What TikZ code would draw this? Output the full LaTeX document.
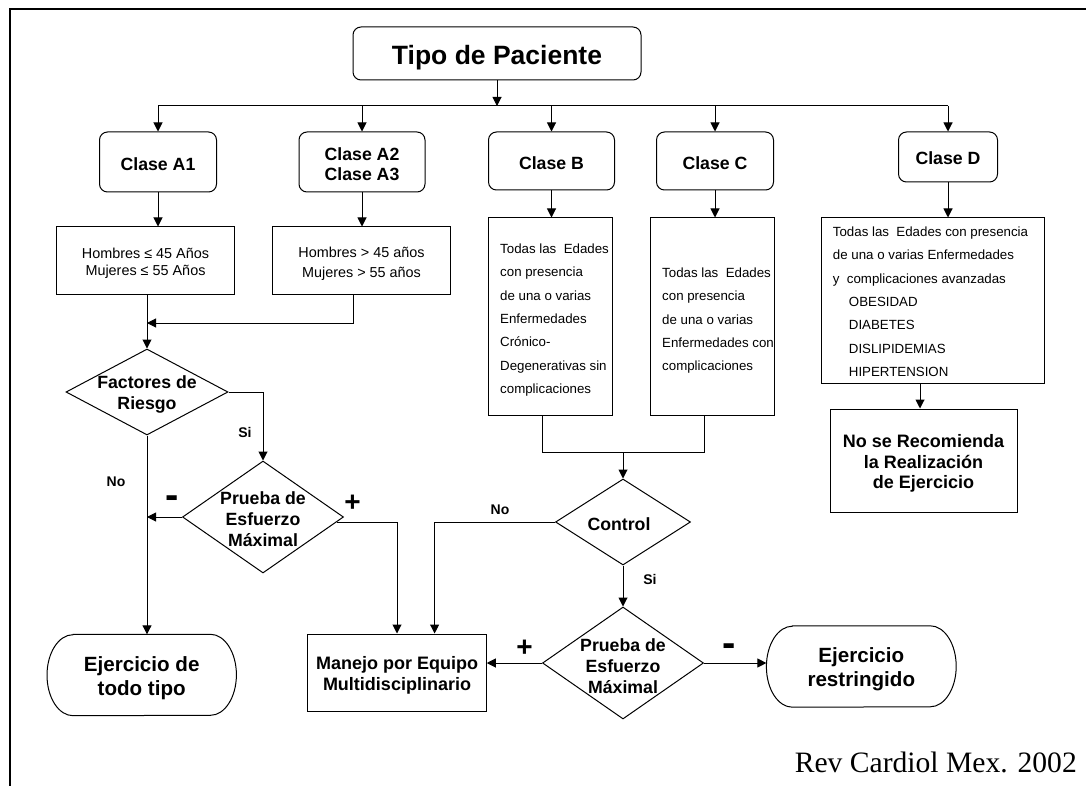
\documentclass[tikz,border=0pt]{standalone}
\usepackage{fontspec}
\setmainfont{Liberation Sans}
\newfontfamily\serifcite{Liberation Serif}
\usetikzlibrary{arrows.meta,shapes.geometric}
\newcommand\setfs[2]{\fontsize{#1}{#2}\selectfont}
\newcommand\bfsz{\bfseries\setfs{17.7}{21}}
\newcommand\termline[1]{\draw[line] ([xshift=26pt]#1.north west) -- ([xshift=-26pt]#1.north east) arc[start angle=90,end angle=-90,x radius=26pt,y radius=40.5pt] -- ([xshift=26pt]#1.south west) arc[start angle=270,end angle=90,x radius=26pt,y radius=40.5pt] -- cycle;}
\tikzset{
  line/.style={line width=1pt},
  arr/.style={line width=1pt,-{Triangle[length=9pt,width=9pt]}},
  rbox/.style={draw,line width=1pt,rounded corners=8pt,inner sep=0pt},
  sbox/.style={draw,line width=1pt,inner sep=0pt},
  dia/.style={draw,line width=1pt,diamond,inner sep=0pt},
  blbl/.style={font=\bfsz,align=center,inner sep=0pt,yshift=-2.5pt},
  small/.style={font=\bfseries\setfs{14}{16},inner sep=0pt},
  plus/.style={font=\bfseries\setfs{28}{30},inner sep=0pt},
  minus/.style={font=\bfseries\setfs{40}{40},inner sep=0pt},
  body/.style={font=\setfs{13.3}{23.4},align=left,inner sep=0pt,anchor=north west},
  term/.style={inner sep=0pt,align=center,font=\bfseries\setfs{20.6}{24},yshift=-3pt},
}
\begin{document}
\begin{tikzpicture}[x=1pt,y=-1pt]
\useasboundingbox (0,0) rectangle (1086,786);
\draw[line width=2pt] (10,786) -- (10,9.5) -- (1086,9.5);

% top
\node[rbox,minimum width=288pt,minimum height=53pt] (tipo) at (497,53.5) {};
\node[blbl,font=\bfseries\setfs{26.5}{30},yshift=-1.5pt] (tipot) at (tipo) {Tipo de Paciente};

% classes
\node[rbox,minimum width=117pt,minimum height=60pt] (a1) at (158,162) {};
\node[blbl] (a1t) at (a1) {Clase A1};
\node[rbox,minimum width=126pt,minimum height=60pt] (a2) at (362,162) {};
\node[blbl,font=\bfseries\setfs{17.7}{20}] (a2t) at (a2) {Clase A2\\Clase A3};
\node[rbox,minimum width=126pt,minimum height=58pt] (cb) at (551.5,161) {};
\node[blbl] (cbt) at (cb) {Clase B};
\node[rbox,minimum width=117pt,minimum height=58pt] (cc) at (715,161) {};
\node[blbl] (cct) at (cc) {Clase C};
\node[rbox,minimum width=99pt,minimum height=50pt] (cd) at (948,157) {};
\node[blbl,yshift=1.5pt] (cdt) at (cd) {Clase D};

\coordinate (busL) at (158,106);
\coordinate (busR) at (948,106);
\draw[arr] (tipo.south) -- (tipo.south |- busL);
\draw[line] (busL) -- (busR);
\foreach \n in {a1,a2,cb,cc,cd} \draw[arr] (\n.north |- busL) -- (\n.north);

% second row
\node[sbox,minimum width=178pt,minimum height=67pt] (h1) at (145.5,260.5) {};
\node[align=center,inner sep=0pt,font=\setfs{14.4}{17},yshift=-3pt] (h1t) at (h1) {Hombres ≤ 45 Años\\Mujeres ≤ 55 Años};
\node[sbox,minimum width=178pt,minimum height=67pt] (h2) at (361.5,260.5) {};
\node[align=center,inner sep=0pt,font=\setfs{14.4}{20},yshift=-3pt] (h2t) at (h2) {Hombres > 45 años\\Mujeres > 55 años};
\draw[arr] (a1.south) -- (a1.south |- h1.north);
\draw[arr] (a2.south) -- (a2.south |- h2.north);

\node[sbox,minimum width=124pt,minimum height=197pt] (tb) at (550.5,316.5) {};
\node[body] (tbt) at (500,243.5) {Todas las~ Edades\\con presencia\\de una o varias\\Enfermedades\\Crónico-\\Degenerativas sin\\complicaciones};
\node[sbox,minimum width=124pt,minimum height=197pt] (tc) at (712,316.5) {};
\node[body] (tct) at (662,267.5) {Todas las~ Edades\\con presencia\\de una o varias\\Enfermedades con\\complicaciones};
\node[sbox,minimum width=223pt,minimum height=165pt] (td) at (933.4,300.5) {};
\node[body] (tdt) at (832.7,226.5) {Todas las~ Edades con presencia\\de una o varias Enfermedades\\y~ complicaciones avanzadas\\\hspace*{16pt}OBESIDAD\\\hspace*{16pt}DIABETES\\\hspace*{16pt}DISLIPIDEMIAS\\\hspace*{16pt}HIPERTENSION};
\draw[arr] (cb.south) -- (cb.south |- tb.north);
\draw[arr] (cc.south) -- (cc.south |- tc.north);
\draw[arr] (cd.south) -- (cd.south |- td.north);

% No se recomienda
\node[sbox,minimum width=187pt,minimum height=103pt] (ns) at (923.5,460.5) {};
\node[blbl,font=\bfseries\setfs{18}{20.5},yshift=-0.5pt] (nst) at (ns) {No se Recomienda\\la Realización\\de Ejercicio};
\draw[arr] ([xshift=-3.5pt]ns.north |- td.south) -- ([xshift=-3.5pt]ns.north);

% left branch
\node[dia,minimum width=162pt,minimum height=86pt] (f) at (147,392) {};
\node[blbl] (ft) at (f) {Factores de\\Riesgo};
\coordinate (m1) at (147,323);
\draw[arr] (h1.south -| f.north) -- (f.north);
\draw[arr] ([xshift=-8pt]h2.south) |- (m1);

\node[dia,minimum width=161pt,minimum height=112pt] (p1) at (263,517) {};
\node[blbl] (p1t) at (p1) {Prueba de\\Esfuerzo\\Máximal};
\draw[arr] (f.east) -| (p1.north);
\node[small] (si1) at (245,432) {Si};

\node[minimum width=189pt,minimum height=81pt,inner sep=0pt] (e1) at (141.7,675) {};
\termline{e1}
\node[term] (e1t) at (e1) {Ejercicio de\\todo tipo};
\draw[arr] (f.south) -- (f.south |- e1.north);
\node[small] (no1) at (116,482) {No};
\draw[arr] (p1.west) -- (p1.west -| f.south);
\node[minus] (mi1) at (172,502) {-};

\node[sbox,minimum width=178.5pt,minimum height=77pt] (m) at (397,672.5) {};
\node[blbl,font=\bfseries\setfs{18}{21}] (mt) at (m) {Manejo por Equipo\\Multidisciplinario};
\draw[arr] ([shift={(-7,5)}]p1.east) -| (m.north);
\node[plus] (pl1) at (352.5,503) {+};

% right branch
\coordinate (j) at (623,452);
\draw[line] ([xshift=-8.5pt]tb.south) |- ([xshift=-8pt]tc.south |- j) -- ([xshift=-8pt]tc.south);
\node[dia,minimum width=135pt,minimum height=86pt] (ctl) at (623,522) {};
\node[blbl,yshift=1.5pt] (ctlt) at (619,523) {Control};
\draw[arr] (j) -- (ctl.north);
\draw[arr] (ctl.west) -| ([xshift=37.6pt]m.north);
\node[small] (no2) at (500,510) {No};

\node[dia,minimum width=161pt,minimum height=112pt] (p2) at (623,663) {};
\node[blbl] (p2t) at (623,664) {Prueba de\\Esfuerzo\\Máximal};
\draw[arr] (ctl.south) -- (p2.north);
\node[small] (si2) at (650,579) {Si};

\node[minimum width=189.4pt,minimum height=81pt,inner sep=0pt] (e2) at (861.3,666.5) {};
\termline{e2}
\node[term] (e2t) at (e2) {Ejercicio\\restringido};
\draw[arr] (p2.west) -- (p2.west -| m.east);
\node[plus] (pl2) at (524.6,648) {+};
\draw[arr] (p2.east) -- (p2.east -| e2.west);
\node[minus] (mi2) at (729,650) {-};

\node[anchor=base east,inner sep=0pt,font=\serifcite\setfs{29.6}{32}] (cite) at (1077,772.5) {Rev Cardiol Mex. 2002};
\end{tikzpicture}
\end{document}
